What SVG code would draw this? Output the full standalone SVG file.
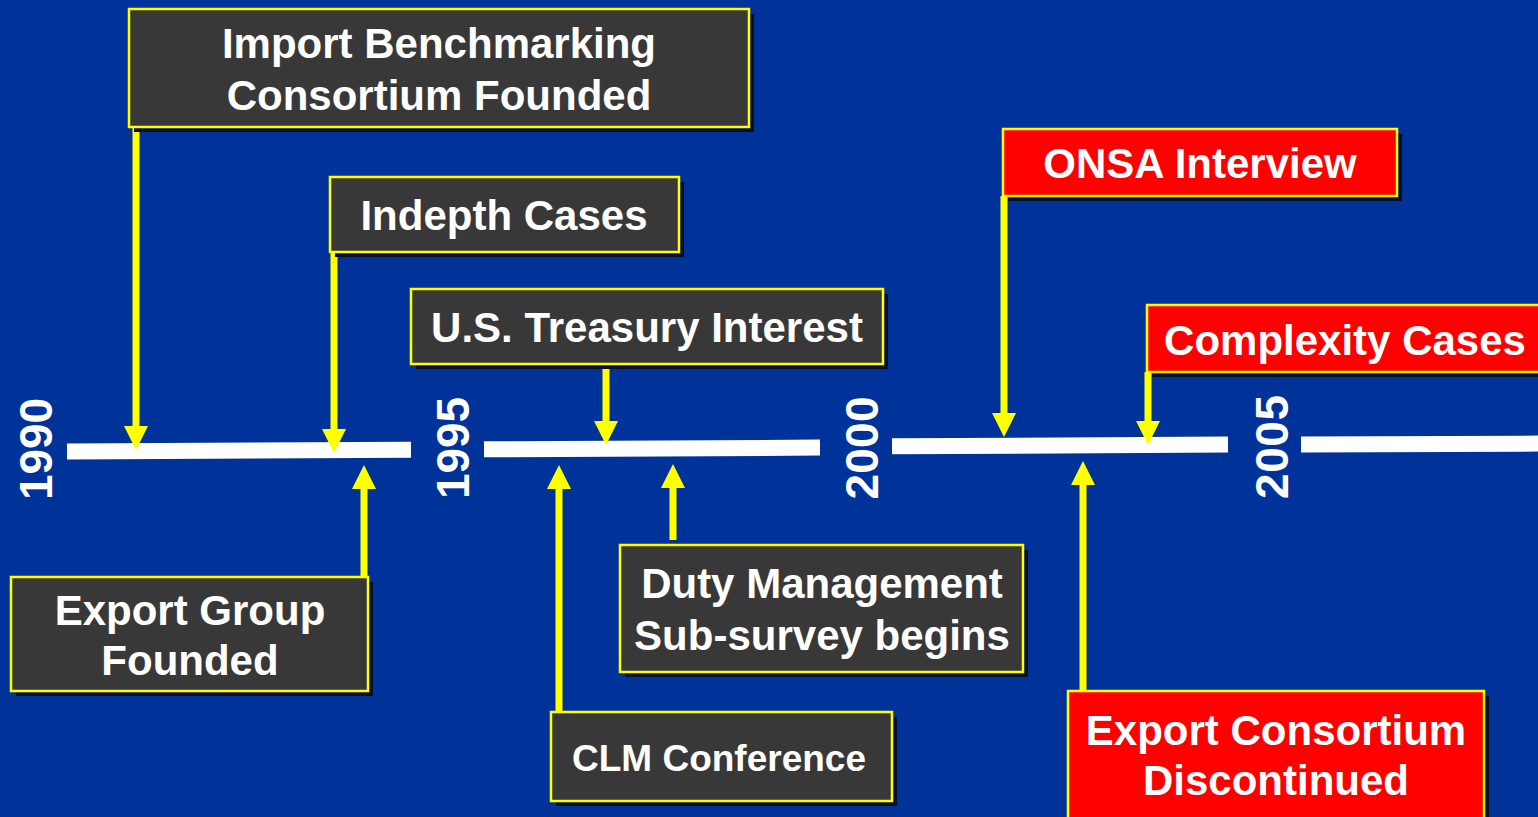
<svg xmlns="http://www.w3.org/2000/svg" width="1538" height="817" viewBox="0 0 1538 817">
<defs>
<style>
.bg{fill:#003399}
.shadow{fill:#0a0f26}
.box{fill:#383838;stroke:#ffff00;stroke-width:2.5}
.red{fill:#ff0000;stroke:#ffff00;stroke-width:2.5}
.t{font-family:"Liberation Sans",Arial,sans-serif;font-weight:bold;fill:#ffffff;text-anchor:middle;font-size:42px}
.small{font-size:37px}
.year{font-family:"Liberation Sans",Arial,sans-serif;font-weight:bold;fill:#ffffff;text-anchor:middle;font-size:46px}
.bar{stroke:#ffffff;stroke-width:16;fill:none}
.arrow{stroke:#ffff00;stroke-width:7;fill:none;marker-end:url(#ah)}
</style>
<marker id="ah" markerUnits="userSpaceOnUse" markerWidth="24" markerHeight="24" viewBox="0 0 24 24" refX="12" refY="12" orient="auto">
<path d="M0,0 L24,12 L0,24 Z" fill="#ffff00"/>
</marker>
</defs>
<rect class="bg" x="0" y="0" width="1538" height="817"/>

<g id="timeline">
<line class="bar" x1="67" y1="451.5" x2="411" y2="449.8"/>
<line class="bar" x1="484" y1="449.3" x2="820" y2="447.6"/>
<line class="bar" x1="892" y1="446.3" x2="1228" y2="444.6"/>
<line class="bar" x1="1301" y1="444.4" x2="1538" y2="443.6"/>
<text class="year" transform="translate(52,449) rotate(-90)" textLength="102">1990</text>
<text class="year" transform="translate(469,448) rotate(-90)" textLength="102">1995</text>
<text class="year" transform="translate(878,448) rotate(-90)" textLength="103">2000</text>
<text class="year" transform="translate(1288,447) rotate(-90)" textLength="104">2005</text>
</g>

<g id="connectors">
<line class="arrow" x1="136" y1="127" x2="136" y2="438"/>
<line class="arrow" x1="334" y1="252" x2="334" y2="441"/>
<line class="arrow" x1="364" y1="577" x2="364" y2="477"/>
<line class="arrow" x1="606" y1="368" x2="606" y2="433"/>
<line class="arrow" x1="559" y1="712" x2="559" y2="477"/>
<line class="arrow" x1="673" y1="540" x2="673" y2="476"/>
<line class="arrow" x1="1004" y1="196" x2="1004" y2="425"/>
<line class="arrow" x1="1148" y1="372" x2="1148" y2="433"/>
<line class="arrow" x1="1083" y1="691" x2="1083" y2="473"/>
</g>

<g id="import-benchmarking">
<rect class="shadow" x="134" y="14" width="620" height="118"/>
<rect class="box" x="129" y="9" width="620" height="118"/>
<text class="t" x="439" y="58">Import Benchmarking</text>
<text class="t" x="439" y="110">Consortium Founded</text>
</g>

<g id="indepth-cases">
<rect class="shadow" x="335" y="182" width="349" height="75"/>
<rect class="box" x="330" y="177" width="349" height="75"/>
<text class="t" x="504" y="230">Indepth Cases</text>
</g>

<g id="us-treasury">
<rect class="shadow" x="416" y="294" width="472" height="75"/>
<rect class="box" x="411" y="289" width="472" height="75"/>
<text class="t" x="647" y="342">U.S. Treasury Interest</text>
</g>

<g id="onsa-interview">
<rect class="shadow" x="1008" y="134" width="394" height="67"/>
<rect class="red" x="1003" y="129" width="394" height="67"/>
<text class="t" x="1200" y="178">ONSA Interview</text>
</g>

<g id="complexity-cases">
<rect class="shadow" x="1152" y="310" width="400" height="67"/>
<rect class="red" x="1147" y="305" width="400" height="67"/>
<text class="t" x="1345" y="355">Complexity Cases</text>
</g>

<g id="export-group">
<rect class="shadow" x="16" y="582" width="357" height="114"/>
<rect class="box" x="11" y="577" width="357" height="114"/>
<text class="t" x="190" y="625">Export Group</text>
<text class="t" x="190" y="675">Founded</text>
</g>

<g id="duty-management">
<rect class="shadow" x="625" y="550" width="403" height="127"/>
<rect class="box" x="620" y="545" width="403" height="127"/>
<text class="t" x="822" y="598">Duty Management</text>
<text class="t" x="822" y="650">Sub-survey begins</text>
</g>

<g id="clm-conference">
<rect class="shadow" x="556" y="717" width="341" height="89"/>
<rect class="box" x="551" y="712" width="341" height="89"/>
<text class="t small" x="719" y="771">CLM Conference</text>
</g>

<g id="export-consortium">
<rect class="shadow" x="1073" y="696" width="416" height="130"/>
<rect class="red" x="1068" y="691" width="416" height="130"/>
<text class="t" x="1276" y="745">Export Consortium</text>
<text class="t" x="1276" y="795">Discontinued</text>
</g>
</svg>
